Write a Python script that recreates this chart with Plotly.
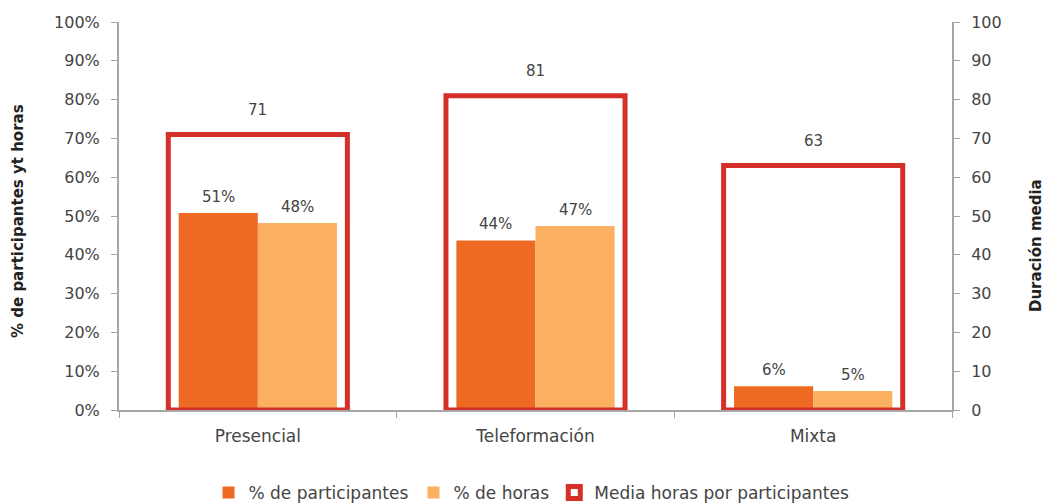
import plotly.graph_objects as go

categories = ["Presencial", "Teleformación", "Mixta"]
pct_participantes = [50.8, 43.7, 6.1]
pct_horas = [48.2, 47.4, 4.9]
media_horas = [71, 81, 63]
y_title_left = "% de participantes yt horas"
y_title_right = "Duración media"

C_PART = "#EE6A22"
C_HORAS = "#FBB062"
C_MEDIA = "#D52F29"
TXT = "#444444"
AX = "#A6A6A6"
FONT = "DejaVu Sans"
FS = 15
FS_T = 16
FS_L = 17

fig = go.Figure()
fig.add_trace(go.Bar(
    x=categories, y=pct_participantes, name="% de participantes",
    marker=dict(color=C_PART, line=dict(width=0)),
    width=0.285, offset=-0.285, yaxis="y",
))
fig.add_trace(go.Bar(
    x=categories, y=pct_horas, name="% de horas",
    marker=dict(color=C_HORAS, line=dict(width=0)),
    width=0.285, offset=0.0, yaxis="y",
))
fig.add_trace(go.Bar(
    x=categories, y=media_horas, name="Media horas por participantes",
    marker=dict(color="rgba(0,0,0,0)", line=dict(color=C_MEDIA, width=5)),
    width=0.645, offset=-0.3225, yaxis="y2",
))

ann = []
for i, c in enumerate(categories):
    ann.append(dict(x=i - 0.1425, y=pct_participantes[i], xref="x", yref="y",
                    text=f"{pct_participantes[i]:.0f}%", showarrow=False, yshift=16,
                    font=dict(size=FS, color=TXT, family=FONT)))
    ann.append(dict(x=i + 0.1425, y=pct_horas[i], xref="x", yref="y",
                    text=f"{pct_horas[i]:.0f}%", showarrow=False, yshift=16,
                    font=dict(size=FS, color=TXT, family=FONT)))
    ann.append(dict(x=i, y=media_horas[i], xref="x", yref="y2",
                    text=f"{media_horas[i]:.0f}", showarrow=False, yshift=25,
                    font=dict(size=FS, color=TXT, family=FONT)))

# axis titles
ann.append(dict(x=-0.1213, y=0.487, xref="paper", yref="paper", textangle=-90,
                xanchor="center", yanchor="middle", showarrow=False,
                text=f"<b>{y_title_left}</b>", font=dict(size=FS, color="#222", family=FONT)))
ann.append(dict(x=1.101, y=0.423, xref="paper", yref="paper", textangle=-90,
                xanchor="center", yanchor="middle", showarrow=False,
                text=f"<b>{y_title_right}</b>", font=dict(size=FS, color="#222", family=FONT)))

fig.update_layout(
    width=1047, height=496,
    margin=dict(l=111, r=103, t=14, b=94, autoexpand=False),
    barmode="overlay",
    plot_bgcolor="white", paper_bgcolor="white",
    font=dict(family=FONT, size=FS, color=TXT),
    showlegend=True,
    legend=dict(orientation="h", x=0.5, xanchor="center", xref="container",
                y=-0.214, yanchor="middle", yref="paper",
                font=dict(size=FS_L, color=TXT), traceorder="normal",
                itemwidth=30),
    annotations=ann,
    xaxis=dict(
        type="category", range=[-0.5, 2.5], automargin=False,
        showline=True, linecolor=AX, linewidth=2,
        ticks="outside", tickson="boundaries", ticklen=6, tickcolor=AX,
        ticklabelstandoff=10,
        tickfont=dict(size=FS_L, color=TXT), showgrid=False,
    ),
    yaxis=dict(
        range=[0, 100], dtick=10, ticksuffix="%", automargin=False,
        showline=True, linecolor=AX, linewidth=2,
        ticks="outside", ticklen=6, tickcolor=AX, showgrid=False, zeroline=False,
        ticklabelstandoff=8,
        tickfont=dict(size=FS_T, color=TXT),
    ),
    yaxis2=dict(
        range=[0, 100], dtick=10, overlaying="y", side="right", automargin=False,
        showline=True, linecolor=AX, linewidth=2,
        ticks="outside", ticklen=6, tickcolor=AX, showgrid=False, zeroline=False,
        ticklabelstandoff=8,
        tickfont=dict(size=FS_T, color=TXT),
    ),
)

fig.write_html("out.html", config={"displayModeBar": False})
